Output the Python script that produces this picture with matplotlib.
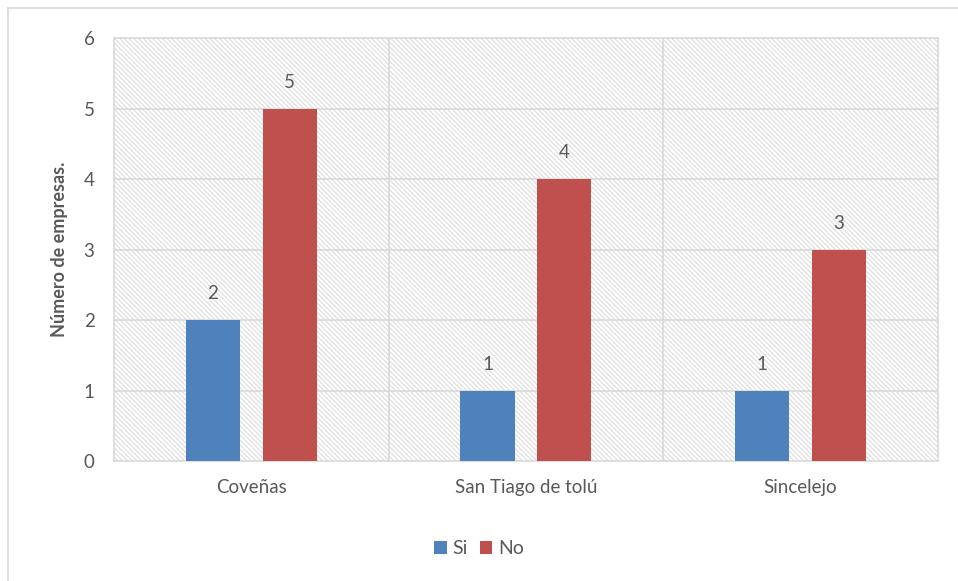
import matplotlib.pyplot as plt
import numpy as np
from matplotlib.patches import Rectangle
from matplotlib.lines import Line2D

plt.rcParams['font.family'] = ['Lato', 'DejaVu Sans']
plt.rcParams['hatch.linewidth'] = 0.7

ciudades = ['Coveñas', 'San Tiago de tolú', 'Sincelejo']
si = [2, 1, 1]
no = [5, 4, 3]

azul = '#4f81bd'
rojo = '#c0504d'
gris = '#595959'
linea = '#d9d9d9'

fig = plt.figure(figsize=(9.58, 5.81), dpi=100)
ax = fig.add_axes([0.119, 0.2065, 0.860, 0.728])

# fondo rayado del area de trazado
ax.add_patch(Rectangle((0, 0), 1, 1, transform=ax.transAxes, facecolor='white',
                       edgecolor='#d8d8d8', linewidth=0, hatch='\\' * 7, zorder=0))

x = np.arange(len(ciudades))
w = 0.197
b1 = ax.bar(x - 0.14, si, w, color=azul, label='Si', zorder=3)
b2 = ax.bar(x + 0.14, no, w, color=rojo, label='No', zorder=3)

for bars in (b1, b2):
    for r in bars:
        ax.annotate(f'{r.get_height():g}', (r.get_x() + r.get_width() / 2, r.get_height()),
                    xytext=(0, 19), textcoords='offset points', ha='center', va='center',
                    fontsize=13.5, color=gris)

ax.set_xlim(-0.5, 2.5)
ax.set_ylim(0, 6)
ax.set_yticks(range(7))
ax.set_xticks(x)
ax.set_xticklabels(ciudades)
ax.tick_params(axis='both', length=0, labelsize=13.5, colors=gris)
ax.tick_params(axis='y', pad=14)
ax.tick_params(axis='x', pad=13)

for y in range(1, 6):
    ax.axhline(y, color=linea, lw=1.2, zorder=1)
for xv in (0.5, 1.5):
    ax.axvline(xv, color=linea, lw=1.2, zorder=1)
for s in ax.spines.values():
    s.set_color(linea)
    s.set_linewidth(1.2)

ax.set_ylabel('Número de empresas.', fontsize=13, fontweight='bold', color=gris, labelpad=11)

leg = ax.legend(loc='upper center', bbox_to_anchor=(0.443, -0.145), ncol=2, frameon=False,
                fontsize=14, handlelength=0.65, handleheight=0.65, handletextpad=0.3,
                columnspacing=0.6)
for t in leg.get_texts():
    t.set_color(gris)

# marco exterior del grafico
fig.add_artist(Line2D([8 / 958, 1], [1 - 8 / 581, 1 - 8 / 581], color=linea, lw=1.2))
fig.add_artist(Line2D([8 / 958, 8 / 958], [0, 1 - 8 / 581], color=linea, lw=1.2))

fig.savefig('out.png', dpi=100)
